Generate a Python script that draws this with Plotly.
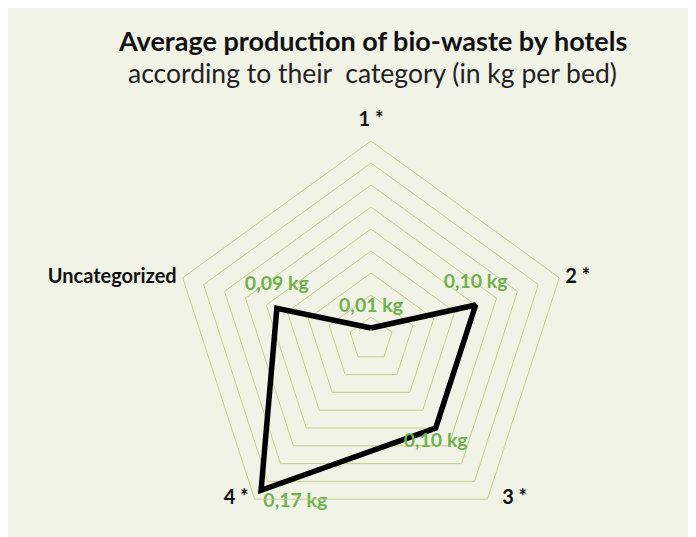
import plotly.graph_objects as go

categories = ["1 *", "2 *", "3 *", "4 *", "Uncategorized"]
values = [0.01, 0.10, 0.10, 0.17, 0.09]
value_labels = ["0,01 kg", "0,10 kg", "0,10 kg", "0,17 kg", "0,09 kg"]
r_max = 0.18

W, H = 696, 537
BG = "#f2f3e7"
GRID = "#c2cf8c"
GREEN = "#6fb04f"

fig = go.Figure()

fig.add_trace(go.Scatterpolar(
    r=values + values[:1],
    theta=categories + categories[:1],
    mode="lines",
    line=dict(color="black", width=5.5),
    hoverinfo="skip",
))
fig.add_trace(go.Scatterpolar(
    r=values,
    theta=categories,
    mode="markers+text",
    marker=dict(size=[16, 18, 6, 2, 20], opacity=0, line=dict(width=0)),
    text=value_labels,
    textposition=["top center", "top center", "bottom center", "bottom right", "top center"],
    textfont=dict(family="Lato", size=19.5, color=GREEN, weight=700),
    cliponaxis=False,
    hoverinfo="skip",
))
fig.add_trace(go.Scatterpolar(
    r=[r_max] * len(categories),
    theta=categories,
    mode="markers+text",
    marker=dict(size=[14, 8, 22, 8, 8], opacity=0, line=dict(width=0)),
    text=categories,
    textposition=["top center", "middle right", "middle right", "middle left", "middle left"],
    textfont=dict(family="Lato", size=20, color="#111111", weight=700),
    cliponaxis=False,
    hoverinfo="skip",
))

cx, cy, R = 363, 331, 198
def clamp(v):
    return min(1.0, max(0.0, v))

fig.update_layout(
    width=W, height=H,
    margin=dict(l=0, r=0, t=0, b=0),
    paper_bgcolor=BG,
    showlegend=False,
    polar=dict(
        domain=dict(x=[clamp((cx - R) / W), clamp((cx + R) / W)],
                    y=[clamp(1 - (cy + R) / H), clamp(1 - (cy - R) / H)]),
        bgcolor="rgba(0,0,0,0)",
        gridshape="linear",
        radialaxis=dict(range=[0, r_max], dtick=0.02, showticklabels=False, ticks="",
                        showline=False, gridcolor=GRID, gridwidth=1),
        angularaxis=dict(rotation=90, direction="clockwise", categoryorder="array",
                         categoryarray=categories, showgrid=False, ticks="",
                         showticklabels=False, linecolor=GRID, linewidth=1),
    ),
    annotations=[
        dict(text="<b>Average production of bio-waste by hotels</b>", x=364 / W, y=1 - 32 / H,
             xref="paper", yref="paper", showarrow=False, xanchor="center", yanchor="middle",
             font=dict(family="Lato", size=27, color="#111111")),
        dict(text="according to their  category (in kg per bed)", x=364 / W, y=1 - 65 / H,
             xref="paper", yref="paper", showarrow=False, xanchor="center", yanchor="middle",
             font=dict(family="Lato", size=26.5, color="#222222")),
    ],
)

fig.write_html("out.html")
